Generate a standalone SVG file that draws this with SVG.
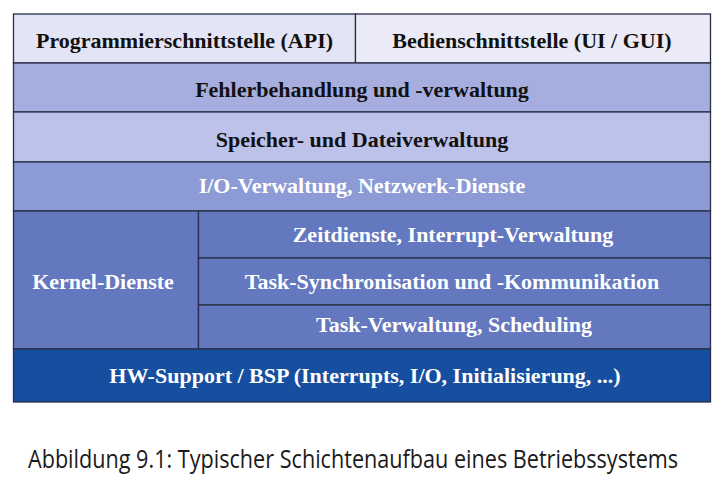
<svg xmlns="http://www.w3.org/2000/svg" width="725" height="487" viewBox="0 0 725 487">
<style>
.b{stroke:#2a2f45;stroke-width:1.3}
.t{font-family:"Liberation Serif","Times New Roman",serif;font-weight:bold;font-size:22px;text-anchor:middle}
.d{fill:#111111}
.w{fill:#ffffff}
.cap{font-family:"Open Sans","Noto Sans",sans-serif;font-size:25px;fill:#1a1a1a}
</style>
<rect width="725" height="487" fill="#ffffff"/>
<g id="api"><rect class="b" x="13.5" y="14" width="342" height="49" fill="#e3e4f5"/><text class="t d" x="184.5" y="47.5">Programmierschnittstelle (API)</text></g>
<g id="gui"><rect class="b" x="355.5" y="14" width="355" height="49" fill="#ebebf8"/><text class="t d" x="532" y="47.5">Bedienschnittstelle (UI / GUI)</text></g>
<g id="fehler"><rect class="b" x="13.5" y="63" width="697" height="49" fill="#a6addf"/><text class="t d" x="362" y="97">Fehlerbehandlung und -verwaltung</text></g>
<g id="speicher"><rect class="b" x="13.5" y="112" width="697" height="50" fill="#bcc2ea"/><text class="t d" x="362" y="146.5">Speicher- und Dateiverwaltung</text></g>
<g id="io"><rect class="b" x="13.5" y="162" width="697" height="49" fill="#8c9bd6"/><text class="t w" x="362" y="193">I/O-Verwaltung, Netzwerk-Dienste</text></g>
<g id="kernel"><rect class="b" x="13.5" y="211" width="185" height="138" fill="#6378be"/><text class="t w" x="103" y="289">Kernel-Dienste</text></g>
<g id="zeit"><rect class="b" x="198.5" y="211" width="512" height="47" fill="#6378be"/><text class="t w" x="453" y="242">Zeitdienste, Interrupt-Verwaltung</text></g>
<g id="sync"><rect class="b" x="198.5" y="258" width="512" height="47" fill="#6378be"/><text class="t w" x="452" y="289">Task-Synchronisation und -Kommunikation</text></g>
<g id="task"><rect class="b" x="198.5" y="305" width="512" height="44" fill="#6378be"/><text class="t w" x="454" y="332">Task-Verwaltung, Scheduling</text></g>
<g id="hw"><rect class="b" x="13.5" y="349" width="697" height="53" fill="#164fa0"/><text class="t w" x="365" y="383">HW-Support / BSP (Interrupts, I/O, Initialisierung, ...)</text></g>
<g id="connectors"></g>
<text class="cap" transform="translate(28,468) scale(0.865,1)" x="0" y="0">Abbildung 9.1: Typischer Schichtenaufbau eines Betriebssystems</text>
</svg>
